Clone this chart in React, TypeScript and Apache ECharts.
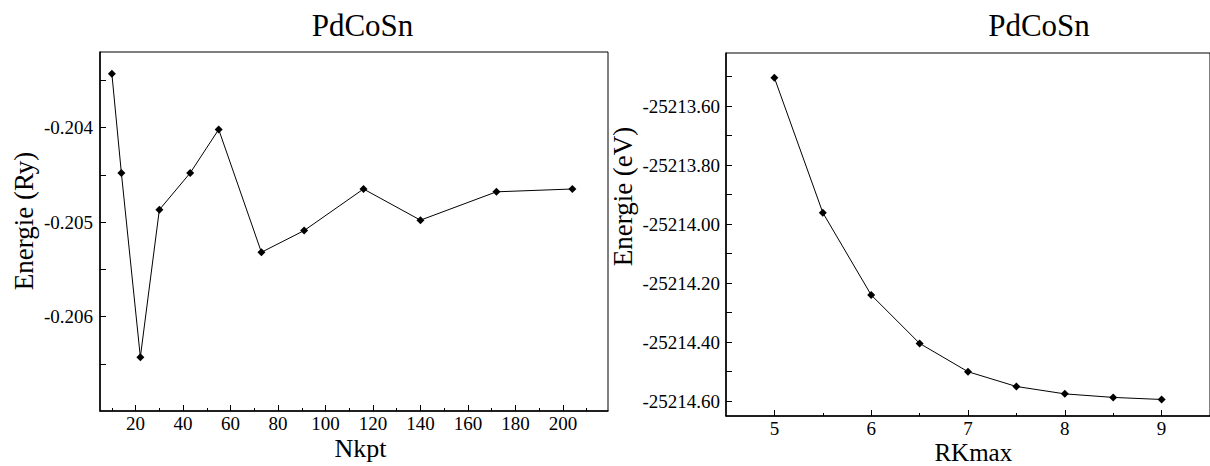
import React, { useEffect, useRef } from "react";
import * as echarts from "echarts";

// Convergence of the total energy of PdCoSn
// Left: energy (Ry) versus number of k-points
const nkpt = [10, 14, 22, 30, 43, 55, 73, 91, 116, 140, 172, 204];
const energyRy = [
  -0.20343, -0.20448, -0.20643, -0.20487, -0.20448, -0.20402, -0.20532,
  -0.20509, -0.20465, -0.20498, -0.20468, -0.20465,
];

// Right: energy (eV) versus RKmax
const rkmax = [5, 5.5, 6, 6.5, 7, 7.5, 8, 8.5, 9];
const energyEv = [
  -25213.504, -25213.961, -25214.24, -25214.404, -25214.5, -25214.55,
  -25214.575, -25214.587, -25214.594,
];

// Tick positions
const nkptMajor = [20, 40, 60, 80, 100, 120, 140, 160, 180, 200];
const nkptMinor = [10, 30, 50, 70, 90, 110, 130, 150, 170, 190, 210];
const ryMajor = [-0.204, -0.205, -0.206];
const ryMinor = [-0.2035, -0.2045, -0.2055, -0.2065];
const rkMajor = [5, 6, 7, 8, 9];
const rkMinor = [5.5, 6.5, 7.5, 8.5];
const evMajor = [-25213.6, -25213.8, -25214.0, -25214.2, -25214.4, -25214.6];
const evMinor = [-25213.5, -25213.7, -25213.9, -25214.1, -25214.3, -25214.5];

const FONT = "'Liberation Serif', 'Times New Roman', serif";
const BLACK = "#000";

function labelStyle(margin: number, values: number[], fmt: (v: number) => string) {
  return {
    show: true,
    customValues: values,
    margin,
    color: BLACK,
    fontFamily: FONT,
    fontSize: 19,
    formatter: fmt,
  };
}

function majorX(gridIndex: number, min: number, max: number, values: number[], margin: number, fmt: (v: number) => string) {
  return {
    type: "value",
    gridIndex,
    min,
    max,
    position: "bottom",
    splitLine: { show: false },
    axisLine: { show: true, lineStyle: { color: BLACK, width: 1.5 } },
    axisTick: { show: true, inside: true, length: 6, customValues: values, lineStyle: { color: BLACK } },
    axisLabel: labelStyle(margin, values, fmt),
  };
}

function minorX(gridIndex: number, min: number, max: number, values: number[]) {
  return {
    type: "value",
    gridIndex,
    min,
    max,
    position: "bottom",
    splitLine: { show: false },
    axisLine: { show: false },
    axisTick: { show: true, inside: true, length: 3, customValues: values, lineStyle: { color: BLACK } },
    axisLabel: { show: false, customValues: values },
  };
}

function majorY(gridIndex: number, min: number, max: number, values: number[], margin: number, fmt: (v: number) => string) {
  return {
    type: "value",
    gridIndex,
    min,
    max,
    position: "left",
    scale: true,
    splitLine: { show: false },
    axisLine: { show: true, lineStyle: { color: BLACK, width: 1.5 } },
    axisTick: { show: true, inside: true, length: 6, customValues: values, lineStyle: { color: BLACK } },
    axisLabel: labelStyle(margin, values, fmt),
  };
}

function minorY(gridIndex: number, min: number, max: number, values: number[]) {
  return {
    type: "value",
    gridIndex,
    min,
    max,
    position: "left",
    scale: true,
    splitLine: { show: false },
    axisLine: { show: false },
    axisTick: { show: true, inside: true, length: 6, customValues: values, lineStyle: { color: BLACK } },
    axisLabel: { show: false, customValues: values },
  };
}

function textEl(text: string, x: number, y: number, size: number, rotation = 0) {
  return {
    type: "text",
    x,
    y,
    rotation,
    style: {
      text,
      fill: BLACK,
      fontFamily: FONT,
      fontSize: size,
      align: "center",
      verticalAlign: "middle",
    },
  };
}

export default function App() {
  const ref = useRef<HTMLDivElement>(null);

  useEffect(() => {
    if (!ref.current) return;
    const chart = echarts.init(ref.current, null, { renderer: "svg" });

    const leftX = { min: 5, max: 219 };
    const leftY = { min: -0.207, max: -0.2032 };
    const rightX = { min: 4.5, max: 9.5 };
    const rightY = { min: -25214.65, max: -25213.42 };

    chart.setOption({
      animation: false,
      backgroundColor: "#fff",
      textStyle: { fontFamily: FONT },
      grid: [
        { left: 100, top: 52, width: 508, height: 359, show: true, borderColor: BLACK, borderWidth: 1, backgroundColor: "transparent" },
        { left: 726, top: 53, width: 485, height: 363, show: true, borderColor: BLACK, borderWidth: 1, backgroundColor: "transparent" },
      ],
      xAxis: [
        majorX(0, leftX.min, leftX.max, nkptMajor, 3, (v: number) => String(Math.round(v))),
        minorX(0, leftX.min, leftX.max, nkptMinor),
        majorX(1, rightX.min, rightX.max, rkMajor, 3, (v: number) => String(Math.round(v))),
        minorX(1, rightX.min, rightX.max, rkMinor),
      ],
      yAxis: [
        majorY(0, leftY.min, leftY.max, ryMajor, 7, (v: number) => v.toFixed(3)),
        minorY(0, leftY.min, leftY.max, ryMinor),
        majorY(1, rightY.min, rightY.max, evMajor, 6, (v: number) => v.toFixed(2)),
        minorY(1, rightY.min, rightY.max, evMinor),
      ],
      series: [
        {
          type: "line",
          xAxisIndex: 0,
          yAxisIndex: 0,
          data: nkpt.map((k, i) => [k, energyRy[i]]),
          symbol: "diamond",
          symbolSize: 8,
          showAllSymbol: true,
          lineStyle: { color: BLACK, width: 1 },
          itemStyle: { color: BLACK },
        },
        {
          type: "line",
          xAxisIndex: 2,
          yAxisIndex: 2,
          data: rkmax.map((r, i) => [r, energyEv[i]]),
          symbol: "diamond",
          symbolSize: 8,
          showAllSymbol: true,
          lineStyle: { color: BLACK, width: 1 },
          itemStyle: { color: BLACK },
        },
      ],
      graphic: [
        textEl("PdCoSn", 362.5, 25, 31),
        textEl("PdCoSn", 1039, 25, 31),
        textEl("Energie (Ry)", 24, 221, 27, Math.PI / 2),
        textEl("Energie (eV)", 623, 196.5, 27, Math.PI / 2),
        textEl("Nkpt", 360.5, 448, 26),
        textEl("RKmax", 973.3, 452.5, 25),
      ],
    });

    return () => chart.dispose();
  }, []);

  return (
    <div
      ref={ref}
      style={{ position: "fixed", left: 0, top: 0, width: 1210, height: 466, background: "#fff" }}
    />
  );
}
